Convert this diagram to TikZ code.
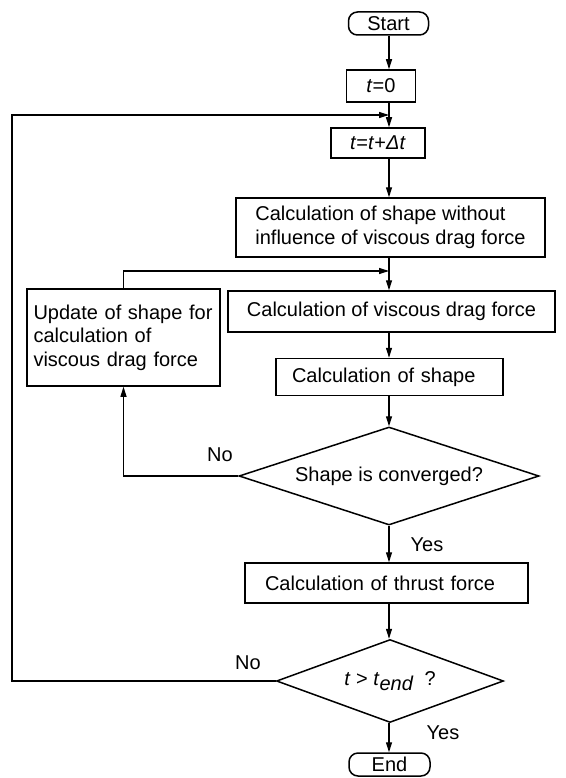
\documentclass[tikz,border=0pt]{standalone}
\usepackage{fontspec}
\setmainfont{Liberation Sans}
\usetikzlibrary{shapes.geometric,arrows.meta}
\begin{document}
\begin{tikzpicture}[x=1pt,y=-1pt,
  txt/.style={font=\fontsize{20}{23.5}\selectfont},
  box/.style={draw,line width=1.5pt,inner sep=0pt,txt},
  term/.style={box,rounded corners=9pt},
  dec/.style={draw,line width=1.5pt,diamond,inner sep=0pt,txt},
  ln/.style={line width=1.1pt},
  arr/.style={ln,-{Triangle[length=10pt,width=6pt]}},
  lab/.style={txt}]
\useasboundingbox (0,0) rectangle (565,778);
\coordinate (c) at (389,0);
\node[term, minimum width=80, minimum height=23] (start) at (388.5,23.5) {Start};
\node[box, minimum width=69, minimum height=32] (t0) at (381,86) {\textit{t}=0};
\node[box, minimum width=94, minimum height=30] (tdt) at (378,143) {\textit{t}=\textit{t}+\textit{Δt}};
\node[box, minimum width=309, minimum height=59, align=left] (calc1) at (390.5,227.5) {Calculation of shape without\\influence of viscous drag force};
\node[box, minimum width=193, minimum height=97, align=left, text width=180] (upd) at (123.5,337.5) {Update of shape for\\calculation of\\viscous drag force};
\node[box, minimum width=327, minimum height=41] (visc) at (391.5,311.5) {Calculation of viscous drag force};
\node[box, minimum width=227, minimum height=37, align=left, text width=195] (shape) at (389.5,377) {Calculation of shape};
\node[dec, aspect=3.06, minimum width=300, minimum height=98] (conv) at (389,476) {Shape is converged?};
\node[box, minimum width=283, minimum height=40, align=left, text width=243] (thrust) at (386.5,583) {Calculation of thrust force};
\node[dec, aspect=2.73, minimum width=227, minimum height=83] (tend) at (390,681) {\textit{t} > \textit{t}\raisebox{-0.45ex}{\textit{end}}\ \ ?};
\node[term, minimum width=81, minimum height=23] (end) at (389.5,764.5) {End};
\coordinate (J1) at (389,115);
\coordinate (J2) at (389,271);
\coordinate (LL) at (12,115);
\draw[arr] (start.south -| c) -- (t0.north -| c);
\draw[arr] (t0.south -| c) -- (tdt.north -| c);
\draw[arr] (tdt.south -| c) -- (calc1.north -| c);
\draw[arr] (calc1.south -| c) -- (visc.north -| c);
\draw[arr] (visc.south -| c) -- (shape.north -| c);
\draw[arr] (shape.south -| c) -- (conv.north);
\draw[arr] (conv.south) -- (thrust.north -| c);
\draw[arr] (thrust.south -| c) -- (tend.north -| c);
\draw[arr] (tend.south -| c) -- (end.north -| c);
\draw[arr] (tend.west) -| (LL) -- (J1);
\draw[arr] (conv.west) -| (upd.south);
\draw[arr] (upd.north) |- (J2);
\node[lab] (no1) at (220,455) {No};
\node[lab] (yes1) at (427,545) {Yes};
\node[lab] (no2) at (248,663) {No};
\node[lab] (yes2) at (443,733) {Yes};
\end{tikzpicture}
\end{document}
